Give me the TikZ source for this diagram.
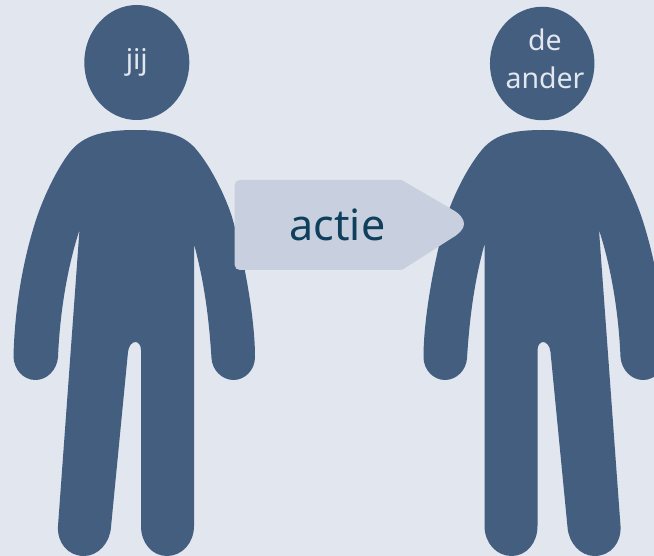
\documentclass[tikz,border=0pt]{standalone}
\usepackage{fontspec}
\setmainfont{Noto Sans}
\usetikzlibrary{shapes.geometric}
\definecolor{bgc}{HTML}{E1E6EF}
\definecolor{figc}{HTML}{435E7F}
\definecolor{arrc}{HTML}{C8D0DF}
\definecolor{txtc}{HTML}{0F3F5C}
\newcommand{\figurebody}{
  (135,130) .. controls (165,130) and (182,134) .. (195,148)
  .. controls (210,165) and (225,195) .. (232,217)
  .. controls (245,262) and (255,320) .. (255,357)
  .. controls (255,370) and (245,380) .. (233.5,380)
  .. controls (222,380) and (212,370) .. (211.5,358)
  .. controls (209,320) and (205,285) .. (194,244)
  -- (194,526) .. controls (194,543) and (182,556) .. (167,556)
  .. controls (152,556) and (141,543) .. (141,526)
  -- (141,350) .. controls (141,345) and (138,342) .. (135.5,342)
  .. controls (132,342) and (128.5,346) .. (128,352)
  -- (111,527) .. controls (110,543) and (98,556) .. (84,556)
  .. controls (68,556) and (57,543) .. (58,526)
  -- (79.5,230) .. controls (68,265) and (60,310) .. (58,357)
  .. controls (57,370) and (47,380) .. (35.5,380)
  .. controls (23,380) and (13.5,369) .. (13.5,356)
  .. controls (15,300) and (25,255) .. (35,223)
  .. controls (43,197) and (58,167) .. (70,152)
  .. controls (82,137) and (100,130) .. (135,130) -- cycle}
\tikzset{
  bodyfill/.style={fill=figc,draw=none},
  headnode/.style={ellipse,fill=figc,draw=none,inner sep=0pt},
  headlabel/.style={text=bgc,font=\fontsize{28.5}{38}\selectfont,align=center,inner sep=0pt},
  actionfill/.style={fill=arrc,draw=none},
  actionlabel/.style={text=txtc,font=\fontsize{43}{50}\selectfont,inner sep=0pt}
}
\begin{document}
\begin{tikzpicture}[x=1pt,y=-1pt]
\useasboundingbox (0,0) rectangle (654,556);
\fill[bgc] (0,0) rectangle (654,556);
\begin{scope}
\clip (0,0) rectangle (654,556);
\fill[bodyfill] \figurebody;
\begin{scope}[xshift=678.5pt,xscale=-1]
\fill[bodyfill] \figurebody;
\end{scope}
\end{scope}
\node[headnode,minimum width=105pt,minimum height=115pt] (jijhead) at (136.8,62.5) {};
\node[headnode,minimum width=104.5pt,minimum height=113.5pt] (anderhead) at (542.2,63.5) {};
\node[headlabel] (jij) at (136.8,62) {jij};
\node[headlabel] (ander) at (545,58.5) {de\\ander};
\fill[actionfill] (240,180) -- (400,180) .. controls (402,180) and (403,180.5) .. (405,182)
  -- (453,210) .. controls (460,214) and (464,219) .. (464,224)
  .. controls (464,229) and (459,234) .. (452,238)
  -- (405,268) .. controls (403,269.5) and (402,270) .. (400,270)
  -- (240,270) .. controls (237,270) and (234.7,268) .. (234.7,265)
  -- (234.7,185) .. controls (234.7,182) and (237,180) .. (240,180) -- cycle;
\node[actionlabel] (actie) at (337.5,225) {actie};
\end{tikzpicture}
\end{document}
